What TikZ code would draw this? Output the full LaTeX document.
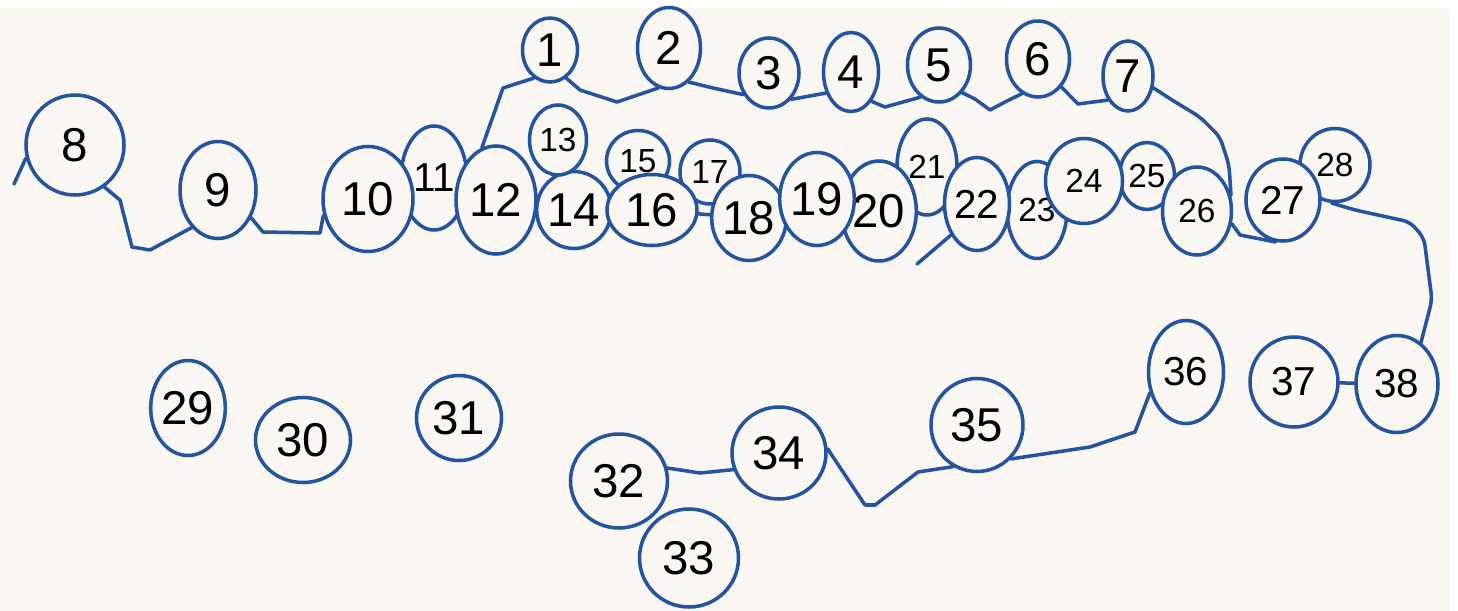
\documentclass[tikz,border=0pt]{standalone}
\usepackage{fontspec}
\setmainfont{Liberation Sans}
\usetikzlibrary{shapes.geometric}
\definecolor{ink}{RGB}{34,84,160}
\definecolor{paper}{RGB}{250,246,242}

\begin{document}
\begin{tikzpicture}[x=0.1mm, y=-0.1mm, line width=1pt,
		b/.style={draw=ink, fill=paper, ellipse, inner sep=0pt},
		sz/.style 2 args={minimum width=#1*0.1mm, minimum height=#2*0.1mm},
		big/.style={font=\fontsize{13.5}{14}\selectfont},
		med/.style={font=\fontsize{11.5}{12}\selectfont},
		sm/.style={font=\fontsize{9.5}{10}\selectfont},
		ln/.style={draw=ink, line cap=round, line join=round}]
	\fill[white] (0,0) rectangle (1458,611);
	\fill[paper] (0,8) rectangle (1450,611);
	\useasboundingbox (0,0) rectangle (1458,611);
	% nodes lying behind their neighbours first
	\node[b, med, sz={66}{104}] (n11) at (434,178) {11};
	\node[b, big, sz={68}{77}] (n14) at (574,210) {14};
	\node[b, sm, sz={63}{61}] (n15) at (638,161) {15};
	\node[b, sm, sz={60}{64}] (n17) at (710,172) {17};
	\node[b, sm, sz={60}{96}] (n21) at (927,167) {21};
	\node[b, sm, sz={60}{97}] (n23) at (1037,210) {23};
	\node[b, sm, sz={55}{67}] (n25) at (1147,176) {25};
	\node[b, sm, sz={70}{73}] (n28) at (1335,165) {28};
	\node[b, big, sz={99}{98}] (n33) at (689,558) {33};
	\node[b, big, sz={55}{64}] (n1) at (550,50) {1};
	\node[b, big, sz={63}{81}] (n2) at (669,48) {2};
	\node[b, big, sz={60}{70}] (n3) at (769,73) {3};
	\node[b, big, sz={55}{79}] (n4) at (851,72) {4};
	\node[b, big, sz={63}{74}] (n5) at (939,65) {5};
	\node[b, big, sz={63}{76}] (n6) at (1038,59) {6};
	\node[b, big, sz={50}{70}] (n7) at (1128,76) {7};
	\node[b, big, sz={98}{100}] (n8) at (75,145) {8};
	\node[b, big, sz={76}{97}] (n9) at (218,190) {9};
	\node[b, big, sz={90}{105}] (n10) at (368,199) {10};
	\node[b, big, sz={80}{108}] (n12) at (496,200) {12};
	\node[b, sm, sz={57}{70}] (n13) at (558,140) {13};
	\node[b, big, sz={90}{71}] (n16) at (652,210) {16};
	\node[b, big, sz={72}{85}] (n18) at (749,218) {18};
	\node[b, big, sz={70}{100}] (n20) at (879,211) {20};
	\node[b, big, sz={69}{93}] (n19) at (817,199) {19};
	\node[b, med, sz={65}{93}] (n22) at (977,204) {22};
	\node[b, sm, sz={77}{85}] (n24) at (1084,181) {24};
	\node[b, sm, sz={69}{88}] (n26) at (1197,211) {26};
	\node[b, med, sz={74}{82}] (n27) at (1283,200) {27};
	\node[b, big, sz={68}{95}] (n29) at (188,408) {29};
	\node[b, big, sz={95}{85}] (n30) at (303,440) {30};
	\node[b, big, sz={85}{85}] (n31) at (459,418) {31};
	\node[b, big, sz={97}{94}] (n32) at (619,481) {32};
	\node[b, big, sz={94}{92}] (n34) at (779,453) {34};
	\node[b, big, sz={92}{93}] (n35) at (977,425) {35};
	\node[b, med, sz={75}{103}] (n36) at (1186,372) {36};
	\node[b, med, sz={88}{90}] (n37) at (1294,382) {37};
	\node[b, med, sz={82}{97}] (n38) at (1397,384) {38};
	\coordinate (w) at (14,184);
	\coordinate (s) at (917,264);
	% connectors
	\draw[ln] (n8.195) -- (w);
	\draw[ln] (n8.-55) -- (120,200) -- (132,247) -- (150,250) -- (n9.-125);
	\draw[ln] (n9.-40) -- (263,232) -- (320,233) -- (n10.200);
	\draw[ln] (n12.105) -- (503,88) -- (n1.-120);
	\draw[ln] (n1.-60) -- (580,90) -- (617,102) -- (n2.-105);
	\draw[ln] (n2.-60) -- (713,88) -- (n3.-140);
	\draw[ln] (n3.-50) -- (n4.-140);
	\draw[ln] (n4.-55) -- (885,107) -- (n5.-120);
	\draw[ln] (n5.-50) -- (975,99) -- (990,110) -- (1005,102) -- (n6.-115);
	\draw[ln] (n6.-50) -- (1078,104) -- (n7.-130);
	\draw[ln, rounded corners=2pt] (n7.-25) -- (1172,100) -- (1200,117) -- (1220,137) -- (1229,165) -- (n26.25);
	\draw[ln] (n26.-20) -- (1240,235) -- (n27.-100);
	\draw[ln, rounded corners=2pt] (n28.-95) -- (1355,210) -- (1410,222) -- (1424,238) -- (1432,300) -- (n38.60);
	\draw[ln] (n37) -- (n38);
	\draw[ln] (n16) -- (n18);
	\draw[ln] (n22.-130) -- (s);
	\draw[ln] (n32.15) -- (700,473) -- (n34.200);
	\draw[ln] (n34.5) -- (865,505) -- (875,505) -- (918,472) -- (n35.-120);
	\draw[ln] (n35.-45) -- (1090,447) -- (1135,432) -- (n36.-150);
\end{tikzpicture}
\end{document}
